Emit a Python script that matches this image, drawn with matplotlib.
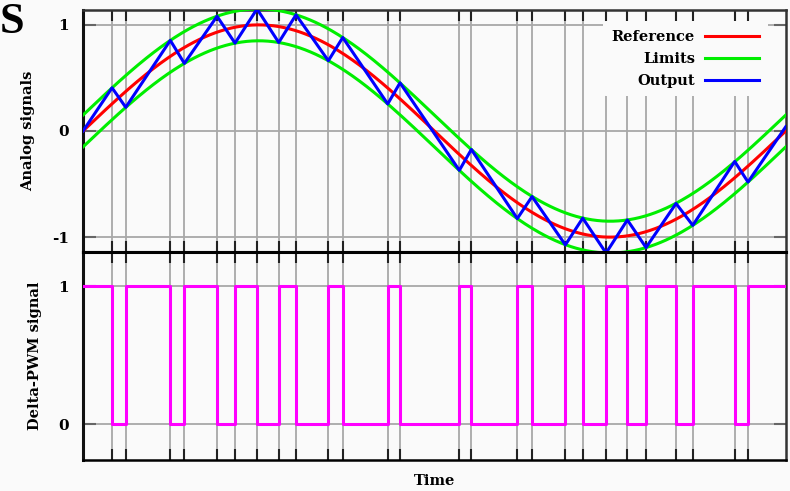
import numpy as np
import matplotlib.pyplot as plt

# switching times of the PWM signal (fraction of one period)
switch_times = [0.0, 0.0413, 0.0608, 0.1242, 0.1442, 0.1907, 0.2163, 0.2476,
                0.2785, 0.3031, 0.3491, 0.3696, 0.4336, 0.4511, 0.5355, 0.5526,
                0.6180, 0.6390, 0.6864, 0.7111, 0.7443, 0.7746, 0.8012, 0.8439,
                0.8677, 0.9274, 0.9463, 1.0]
# PWM level after each switching time
pwm_levels = [1, 0, 1, 0, 1, 0, 1, 0, 1, 0, 1, 0, 1, 0, 1, 0, 1, 0, 1, 0,
              1, 0, 1, 0, 1, 0, 1, 1]
# integrator output at each switching time
output_values = [0.0, 0.407, 0.223, 0.854, 0.637, 1.081, 0.828, 1.150,
                 0.834, 1.095, 0.662, 0.881, 0.255, 0.454, -0.371, -0.174,
                 -0.825, -0.618, -1.073, -0.821, -1.150, -0.838, -1.098, -0.683,
                 -0.889, -0.287, -0.481, 0.04]

ref_amplitude = 1.0
limit_band = 0.15

t = np.linspace(0, 1, 400)
reference = ref_amplitude * np.sin(2 * np.pi * t)
upper = reference + limit_band
lower = reference - limit_band

bg = '#fafafa'
plt.rcParams['font.family'] = ['DejaVu Serif']

fig = plt.figure(figsize=(7.9, 4.91), dpi=100, facecolor=bg)
ax1 = fig.add_axes([0.1051, 0.4868, 0.8895, 0.4928], facecolor=bg)
ax2 = fig.add_axes([0.1051, 0.0631, 0.8895, 0.4237], facecolor=bg)

inner = switch_times[1:-1]
for ax in (ax1, ax2):
    ax.set_xlim(0, 1)
    ax.set_xticks(inner)
    ax.set_xticklabels([])
    ax.tick_params(axis='x', direction='in', length=8, width=1.5,
                   color='#222222', top=True, bottom=True)
    ax.tick_params(axis='y', direction='in', length=9, width=1.5,
                   color='#666666', left=True, right=True, labelsize=11,
                   pad=10)
    ax.grid(True, color='#a8a8a8', linewidth=1.3, zorder=0)
    ax.set_axisbelow(True)
    ax.spines['left'].set_linewidth(2.2)
    ax.spines['left'].set_color('#111111')
    ax.spines['right'].set_linewidth(1.8)
    ax.spines['right'].set_color('#333333')

# -- top: analog signals --
ax1.plot(t, reference, color='#ff0000', lw=2.2, label='Reference', zorder=3)
ax1.plot(t, upper, color='#00ee00', lw=2.2, label='Limits', zorder=3)
ax1.plot(t, lower, color='#00ee00', lw=2.2, zorder=3)
ax1.plot(switch_times, output_values, color='#0000ff', lw=2.2, label='Output', zorder=4)
ax1.set_ylim(-1.14, 1.14)
ax1.set_yticks([1, 0, -1])
ax1.set_yticklabels(['1', '0', '-1'], fontweight='bold')
ax1.spines['top'].set_linewidth(1.8)
ax1.spines['top'].set_color('#333333')
ax1.spines['bottom'].set_linewidth(2.2)
ax1.spines['bottom'].set_color('#000000')
ax1.set_ylabel('Analog signals', fontsize=10.5, fontweight='bold', labelpad=12)
leg = ax1.legend(loc='upper right', bbox_to_anchor=(0.985, 0.985),
                 prop={'size': 10.5, 'weight': 'bold'},
                 markerfirst=False, handlelength=3.7, handletextpad=0.7,
                 labelspacing=0.55, frameon=True, facecolor=bg, edgecolor=bg,
                 framealpha=1, borderpad=0.6)
leg.get_frame().set_linewidth(0)
leg.set_zorder(5)
for txt in leg.get_texts():
    txt.set_ha('right')

# -- bottom: PWM signal --
ax2.step(switch_times, pwm_levels, where='post', color='#ff00ff', lw=2.2, zorder=3)
ax2.set_ylim(-0.26, 1.25)
ax2.set_yticks([0, 1])
ax2.set_yticklabels(['0', '1'], fontweight='bold')
ax2.spines['top'].set_linewidth(2.2)
ax2.spines['top'].set_color('#000000')
ax2.spines['bottom'].set_linewidth(1.8)
ax2.spines['bottom'].set_color('#000000')
ax2.set_ylabel('Delta-PWM signal', fontsize=10.5, fontweight='bold', labelpad=12)
ax2.set_xlabel('Time', fontsize=10.5, fontweight='bold')
ax2.xaxis.set_label_coords(0.5, -0.065)

fig.text(0.0, 0.995, 'S', fontsize=32, fontweight='bold', family='Liberation Serif',
         ha='left', va='top')

fig.savefig('out.png', dpi=100, facecolor=bg)
